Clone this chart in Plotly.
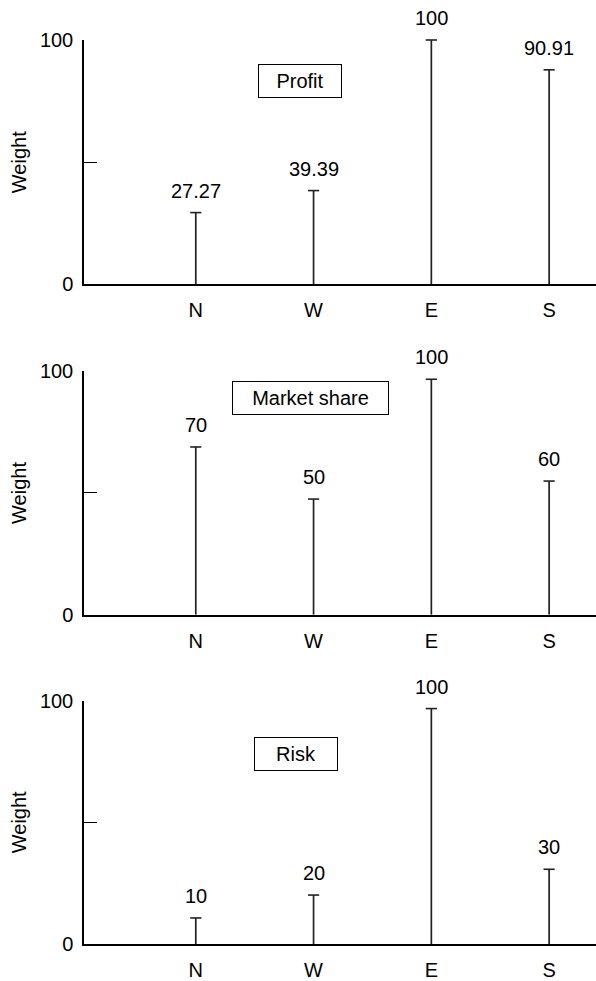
import plotly.graph_objects as go

categories = ["N", "W", "E", "S"]

panel_titles = ["Profit", "Market share", "Risk"]

# heights as drawn in the picture
profit_heights = [29.4, 38.4, 100, 87.8]
market_heights = [68.9, 47.5, 96.7, 54.9]
risk_heights = [10.7, 20.1, 96.7, 30.7]

# value labels as printed
profit_labels = ["27.27", "39.39", "100", "90.91"]
market_labels = ["70", "50", "100", "60"]
risk_labels = ["10", "20", "100", "30"]

y_tickvals = [0, 50, 100]
y_ticktext = ["0", "", "100"]

heights = [profit_heights, market_heights, risk_heights]
labels = [profit_labels, market_labels, risk_labels]

FONT = "Liberation Sans, Arial, Helvetica, sans-serif"
STEM = "#222222"

domains = [[0.7296, 1.0], [0.3642, 0.6336], [0.0, 0.2693]]
box_pos = [(300, 81), (310, 399), (296, 756)]
box_w = [78, 151, 78]

W, H = 596, 981
ML, MR, MT, MB = 84, 0, 40, 35

fig = go.Figure()
annotations = []
for i in range(3):
    xa = "x" if i == 0 else f"x{i+1}"
    ya = "y" if i == 0 else f"y{i+1}"
    hs = heights[i]
    sx, sy = [], []
    for c, h in zip(categories, hs):
        sx += [c, c, None]
        sy += [0, h, None]
    fig.add_trace(go.Scatter(x=sx, y=sy, mode="lines", xaxis=xa, yaxis=ya,
                             line=dict(color=STEM, width=1.7), showlegend=False,
                             hoverinfo="skip", cliponaxis=False))
    fig.add_trace(go.Scatter(x=categories, y=hs, mode="markers", xaxis=xa, yaxis=ya,
                             marker=dict(symbol="line-ew", size=8,
                                         line=dict(color=STEM, width=1.6)),
                             showlegend=False, cliponaxis=False))
    for c, h, t in zip(categories, hs, labels[i]):
        annotations.append(dict(x=c, y=h, xref=xa, yref=ya, text=t, showarrow=False,
                                yanchor="middle", yshift=22,
                                font=dict(family=FONT, size=20, color="black")))
    px, py = box_pos[i]
    annotations.append(dict(x=(px - ML) / (W - ML - MR), y=(H - MB - py) / (H - MT - MB),
                            xref="paper", yref="paper", text=panel_titles[i],
                            showarrow=False, xanchor="center", yanchor="middle",
                            width=box_w[i], height=28, borderpad=2,
                            bordercolor="black", borderwidth=1,
                            font=dict(family=FONT, size=20, color="black")))

axis_common = dict(showline=True, linecolor="black", linewidth=1.5, showgrid=False,
                   zeroline=False, tickfont=dict(family=FONT, size=20, color="black"))

layout = dict(width=W, height=H, margin=dict(l=ML, r=MR, t=MT, b=MB),
              plot_bgcolor="white", paper_bgcolor="white",
              font=dict(family=FONT, size=20, color="black"),
              annotations=annotations, showlegend=False)

for i in range(3):
    xk = "xaxis" if i == 0 else f"xaxis{i+1}"
    yk = "yaxis" if i == 0 else f"yaxis{i+1}"
    xa_anchor = "y" if i == 0 else f"y{i+1}"
    ya_anchor = "x" if i == 0 else f"x{i+1}"
    layout[xk] = dict(axis_common, domain=[0, 1], anchor=xa_anchor, range=[-0.949, 3.398],
                      type="category", categoryorder="array", categoryarray=categories,
                      ticks="", ticklabelstandoff=7, fixedrange=True)
    layout[yk] = dict(axis_common, domain=domains[i], anchor=ya_anchor, range=[0, 100],
                      tickvals=y_tickvals, ticktext=y_ticktext, ticks="inside",
                      ticklen=13, tickwidth=1.2, tickcolor="black", ticklabelstandoff=5,
                      title=dict(text="Weight", standoff=8,
                                 font=dict(family=FONT, size=20, color="black")),
                      fixedrange=True)

fig.update_layout(**layout)
fig.write_html("out.html", config={"displayModeBar": False},
               post_script="document.body.style.margin='0';document.body.style.overflow='hidden';")
